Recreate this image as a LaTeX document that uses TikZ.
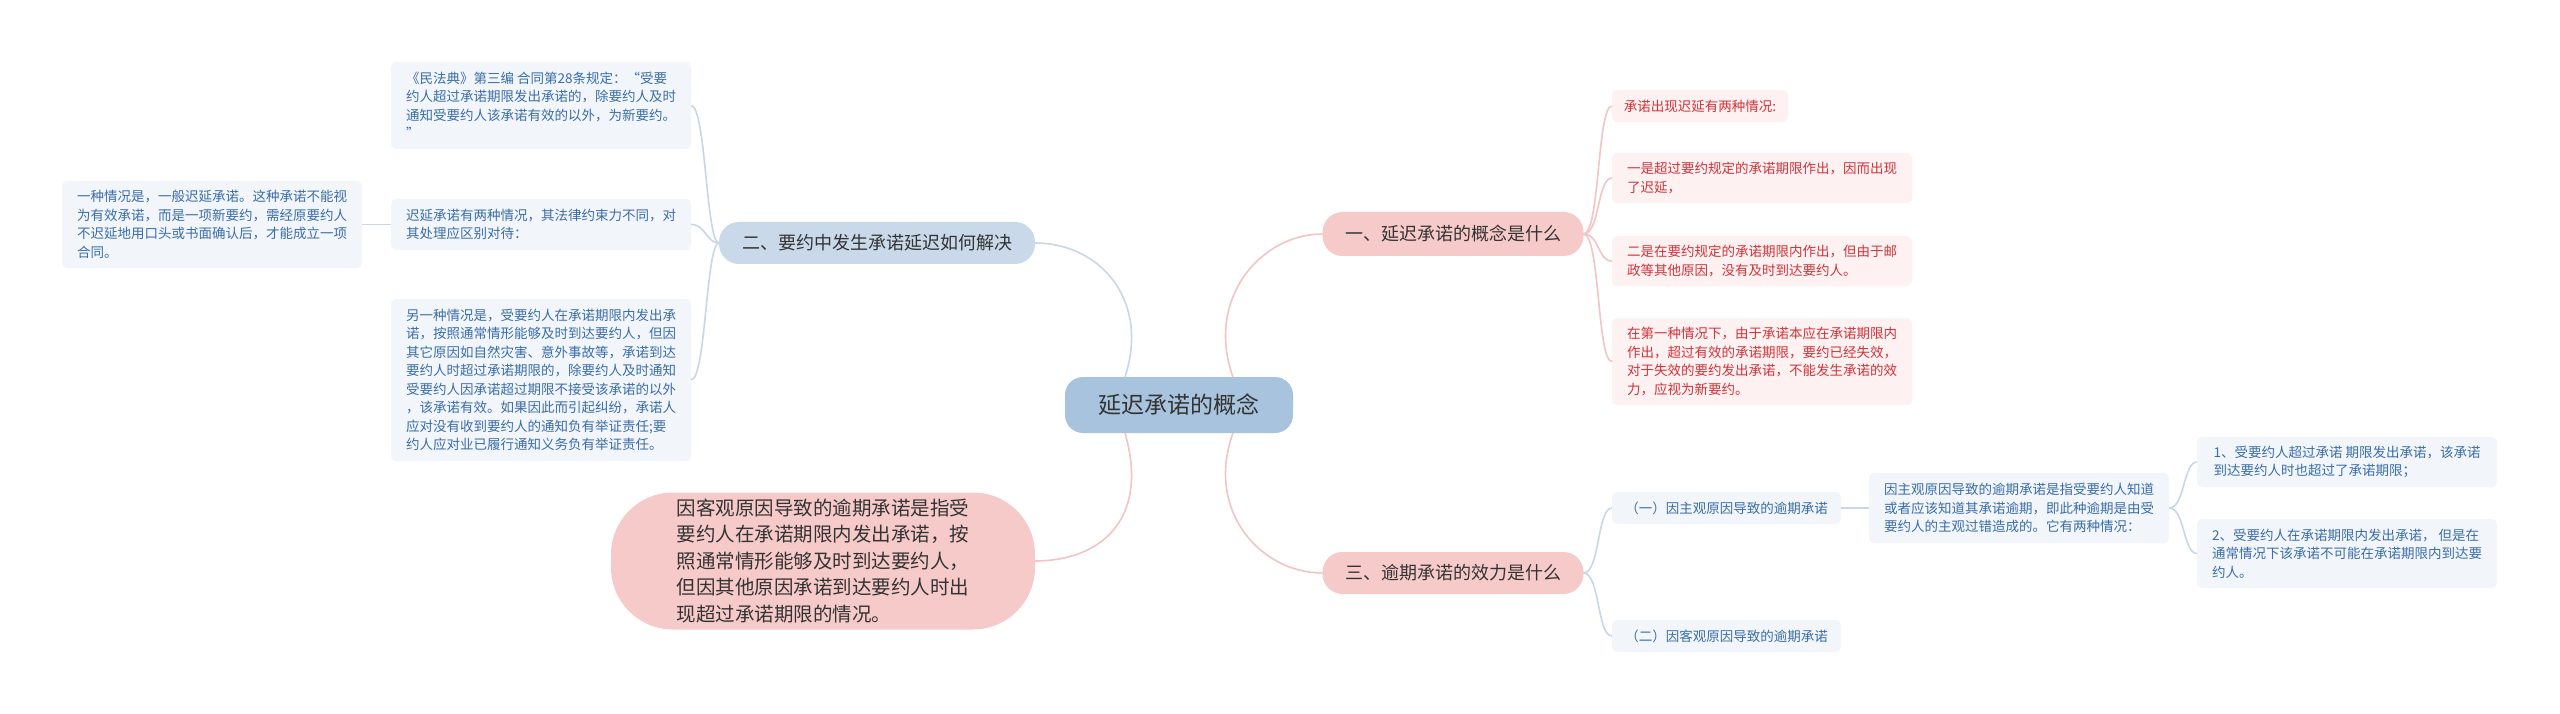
\documentclass[tikz,border=0pt]{standalone}
\usepackage{fontspec}
\setmainfont{Noto Sans CJK SC}
\begin{document}
\begin{tikzpicture}[x=1pt,y=-1pt,
  every node/.style={inner sep=0pt,outer sep=0pt},
  bleaf/.style={fill=bfill,rounded corners=5pt,text=btxt,font=\fontsize{13.5}{18.5}\selectfont,align=left,anchor=north west,inner xsep=7pt,inner ysep=6pt},
  rleaf/.style={fill=rfill,rounded corners=5pt,text=rtxt,font=\fontsize{13.5}{18.5}\selectfont,align=left,anchor=north west,inner xsep=7pt,inner ysep=6pt},
  bcon/.style={draw=bline,line width=1.6pt},
  rcon/.style={draw=rline,line width=1.6pt}]
\definecolor{bfill}{HTML}{F2F6FB}\definecolor{btxt}{HTML}{3A6DA8}
\definecolor{rfill}{HTML}{FDF1F1}\definecolor{rtxt}{HTML}{D0343A}
\definecolor{bline}{HTML}{C7D7E8}\definecolor{rline}{HTML}{F2C4C4}
\definecolor{cfill}{HTML}{A8C3DE}\definecolor{b2fill}{HTML}{C9D9EA}
\definecolor{pfill}{HTML}{F7CACA}\definecolor{dtxt}{HTML}{333333}
\useasboundingbox[fill=white] (0,0) rectangle (2560,714);

\node[fill=cfill,rounded corners=18pt,minimum width=228pt,minimum height=56pt,text=dtxt,font=\fontsize{23}{28}\selectfont] (c) at (1179,405) {延迟承诺的概念};
\node[fill=pfill,rounded corners=20pt,minimum width=261pt,minimum height=44pt,text=dtxt,font=\fontsize{18}{22}\selectfont] (b1) at (1453,234) {一、延迟承诺的概念是什么};
\node[fill=b2fill,rounded corners=20pt,minimum width=316pt,minimum height=42pt,text=dtxt,font=\fontsize{18}{22}\selectfont] (b2) at (877,243) {二、要约中发生承诺延迟如何解决};
\node[fill=pfill,rounded corners=20pt,minimum width=261pt,minimum height=42pt,text=dtxt,font=\fontsize{18}{22}\selectfont] (b3) at (1453,573) {三、逾期承诺的效力是什么};
\node[fill=pfill,rounded corners=62pt,minimum width=424pt,minimum height=137pt,text=dtxt,font=\fontsize{19.5}{26.5}\selectfont,align=left] (bp) at (823,561) {因客观原因导致的逾期承诺是指受\\要约人在承诺期限内发出承诺，按\\照通常情形能够及时到达要约人，\\但因其他原因承诺到达要约人时出\\现超过承诺期限的情况。};

% left leaves
\node[bleaf,minimum width=300pt,minimum height=87pt] (A) at (391,62) {《民法典》第三编 合同第28条规定：“受要\\约人超过承诺期限发出承诺的，除要约人及时\\通知受要约人该承诺有效的以外，为新要约。\\”};
\node[bleaf,minimum width=300pt,minimum height=51pt] (B) at (391,199) {迟延承诺有两种情况，其法律约束力不同，对\\其处理应区别对待：};
\node[bleaf,minimum width=300pt,minimum height=162pt] (C) at (391,299) {另一种情况是，受要约人在承诺期限内发出承\\诺，按照通常情形能够及时到达要约人，但因\\其它原因如自然灾害、意外事故等，承诺到达\\要约人时超过承诺期限的，除要约人及时通知\\受要约人因承诺超过期限不接受该承诺的以外\\，该承诺有效。如果因此而引起纠纷，承诺人\\应对没有收到要约人的通知负有举证责任;要\\约人应对业已履行通知义务负有举证责任。};
\node[bleaf,minimum width=300pt,minimum height=87pt] (D) at (62,181) {一种情况是，一般迟延承诺。这种承诺不能视\\为有效承诺，而是一项新要约，需经原要约人\\不迟延地用口头或书面确认后，才能成立一项\\合同。};

% right red leaves
\node[rleaf,minimum width=176pt,minimum height=32pt] (L1) at (1612,90) {承诺出现迟延有两种情况:};
\node[rleaf,minimum width=300pt,minimum height=50pt] (L2) at (1612,153) {一是超过要约规定的承诺期限作出，因而出现\\了迟延，};
\node[rleaf,minimum width=300pt,minimum height=50pt] (L3) at (1612,236) {二是在要约规定的承诺期限内作出，但由于邮\\政等其他原因，没有及时到达要约人。};
\node[rleaf,minimum width=300pt,minimum height=87pt] (L4) at (1612,318) {在第一种情况下，由于承诺本应在承诺期限内\\作出，超过有效的承诺期限，要约已经失效，\\对于失效的要约发出承诺，不能发生承诺的效\\力，应视为新要约。};

% bottom right
\node[bleaf,minimum width=229pt,minimum height=32pt,inner ysep=7pt] (S1) at (1612,492) {（一）因主观原因导致的逾期承诺};
\node[bleaf,minimum width=229pt,minimum height=32pt,inner ysep=7pt] (S2) at (1612,620) {（二）因客观原因导致的逾期承诺};
\node[bleaf,minimum width=300pt,minimum height=70pt] (M) at (1869,473) {因主观原因导致的逾期承诺是指受要约人知道\\或者应该知道其承诺逾期，即此种逾期是由受\\要约人的主观过错造成的。它有两种情况：};
\node[bleaf,minimum width=300pt,minimum height=50pt] (R1) at (2197,437) {1、受要约人超过承诺 期限发出承诺，该承诺\\到达要约人时也超过了承诺期限；};
\node[bleaf,minimum width=300pt,minimum height=69pt] (R2) at (2197,519) {2、受要约人在承诺期限内发出承诺， 但是在\\通常情况下该承诺不可能在承诺期限内到达要\\约人。};

% connectors
\draw[rcon] (c.north east)++(-60,0) coordinate (c1) .. controls (1205,300) and (1260,234) .. (b1.west);
\draw[rcon] (c.south east)++(-60,0) coordinate (c3) .. controls (1205,510) and (1260,573) .. (b3.west);
\draw[bcon] (c.north west)++(60,0) coordinate (c2) .. controls (1150,300) and (1100,243) .. (b2.east);
\draw[rcon] (c.south west)++(60,0) coordinate (c4) .. controls (1150,520) and (1100,561) .. (bp.east);

\foreach \n in {L1,L2,L3,L4}
  \draw[rcon] (b1.east) .. controls (1600,234) and (1597,0|-\n.west) .. (\n.west);
\foreach \n in {A,B,C}
  \draw[bcon] (b2.west) .. controls (706,243) and (706,0|-\n.east) .. (\n.east);
\draw[bcon] (B.west) -- (D.east);
\foreach \n in {S1,S2}
  \draw[bcon] (b3.east) .. controls (1600,573) and (1597,0|-\n.west) .. (\n.west);
\draw[bcon] (S1.east) -- (M.west |- S1.east);
\foreach \n in {R1,R2}
  \draw[bcon] (M.east) .. controls (2185,508) and (2183,0|-\n.west) .. (\n.west);
\end{tikzpicture}
\end{document}
